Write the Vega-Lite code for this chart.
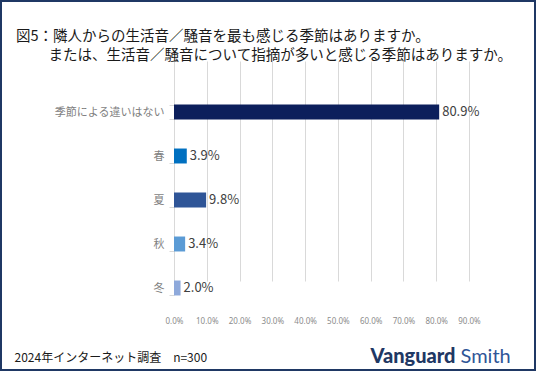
{
  "$schema": "https://vega.github.io/schema/vega-lite/v6.json",
  "width": 536,
  "height": 371,
  "autosize": {"type": "none"},
  "padding": 0,
  "background": "white",
  "config": {
    "view": {"stroke": "#1f3864", "strokeWidth": 4},
    "font": "Noto Sans CJK JP"
  },
  "title": {
    "text": ["図5：隣人からの生活音／騒音を最も感じる季節はありますか。", "\u200B　　\u2005または、生活音／騒音について指摘が多いと感じる季節はありますか。"],
    "anchor": "start",
    "frame": "group",
    "offset": -69,
    "dx": 16,
    "fontSize": 14.5,
    "fontWeight": "normal",
    "color": "#1a1a1a",
    "lineHeight": 18.5,
    "font": "Noto Sans CJK JP"
  },
  "data": {
    "values": [
      {"cat": "季節による違いはない", "pct": 0.809},
      {"cat": "春", "pct": 0.039},
      {"cat": "夏", "pct": 0.098},
      {"cat": "秋", "pct": 0.034},
      {"cat": "冬", "pct": 0.020}
    ]
  },
  "encoding": {
    "x": {
      "field": "pct", "type": "quantitative",
      "scale": {"domain": [0, 0.9], "range": [174, 469], "nice": false},
      "axis": {
        "values": [0, 0.1, 0.2, 0.3, 0.4, 0.5, 0.6, 0.7, 0.8, 0.9],
        "format": ".1%", "grid": true, "gridColor": "#d9d9d9",
        "domain": false, "ticks": false, "offset": -59, "labelPadding": 5,
        "labelOverlap": false, "labelFlush": false, "labelFont": "Noto Sans", "labelFontWeight": "normal",
        "labelFontSize": 8, "labelColor": "#8c8c8c",
        "title": "2024年インターネット調査　n=300", "titleX": 14, "titleY": 45,
        "titleAlign": "left", "titleBaseline": "middle", "titleFontSize": 12,
        "titleFontWeight": "normal", "titleColor": "#1a1a1a"
      }
    }
  },
  "layer": [
    {
      "mark": {"type": "bar"},
      "encoding": {
        "y": {
          "field": "cat", "type": "nominal",
          "sort": ["季節による違いはない", "春", "夏", "秋", "冬"],
          "scale": {"range": [90, 310], "paddingInner": 0.66, "paddingOuter": 0.33},
          "axis": {
            "title": "Vanguard", "titleAngle": 0, "titleX": 196, "titleY": 356,
            "titleAlign": "left", "titleBaseline": "middle", "titleFont": "Lato",
            "titleFontSize": 20, "titleFontWeight": 900, "titleColor": "#1f3864",
            "offset": -174, "domain": false, "ticks": true, "tickBand": "extent",
            "tickSize": 5, "tickColor": "#d9d9d9", "labelPadding": 5,
            "labelFontSize": 11, "labelColor": "#7f7f7f", "grid": false
          }
        },
        "color": {
          "field": "cat", "type": "nominal",
          "scale": {
            "domain": ["季節による違いはない", "春", "夏", "秋", "冬"],
            "range": ["#0c1f5c", "#0070c0", "#2f5597", "#5b9bd5", "#8ea9db"]
          },
          "legend": null
        }
      }
    },
    {
      "mark": {"type": "text", "align": "left", "baseline": "middle", "dx": 3, "fontSize": 13, "color": "#404040"},
      "encoding": {
        "y": {
          "field": "cat", "type": "nominal",
          "sort": ["季節による違いはない", "春", "夏", "秋", "冬"],
          "axis": {
            "orient": "right", "labels": false, "ticks": false, "domain": false, "grid": false,
            "title": "Smith", "titleAngle": 0, "titleX": -76, "titleY": 356,
            "titleAlign": "left", "titleBaseline": "middle", "titleFont": "Lato",
            "titleFontSize": 20, "titleFontWeight": "normal", "titleColor": "#2f5597"
          }
        },
        "text": {"field": "pct", "type": "quantitative", "format": ".1%"}
      }
    }
  ],
  "resolve": {"axis": {"y": "independent"}}
}
